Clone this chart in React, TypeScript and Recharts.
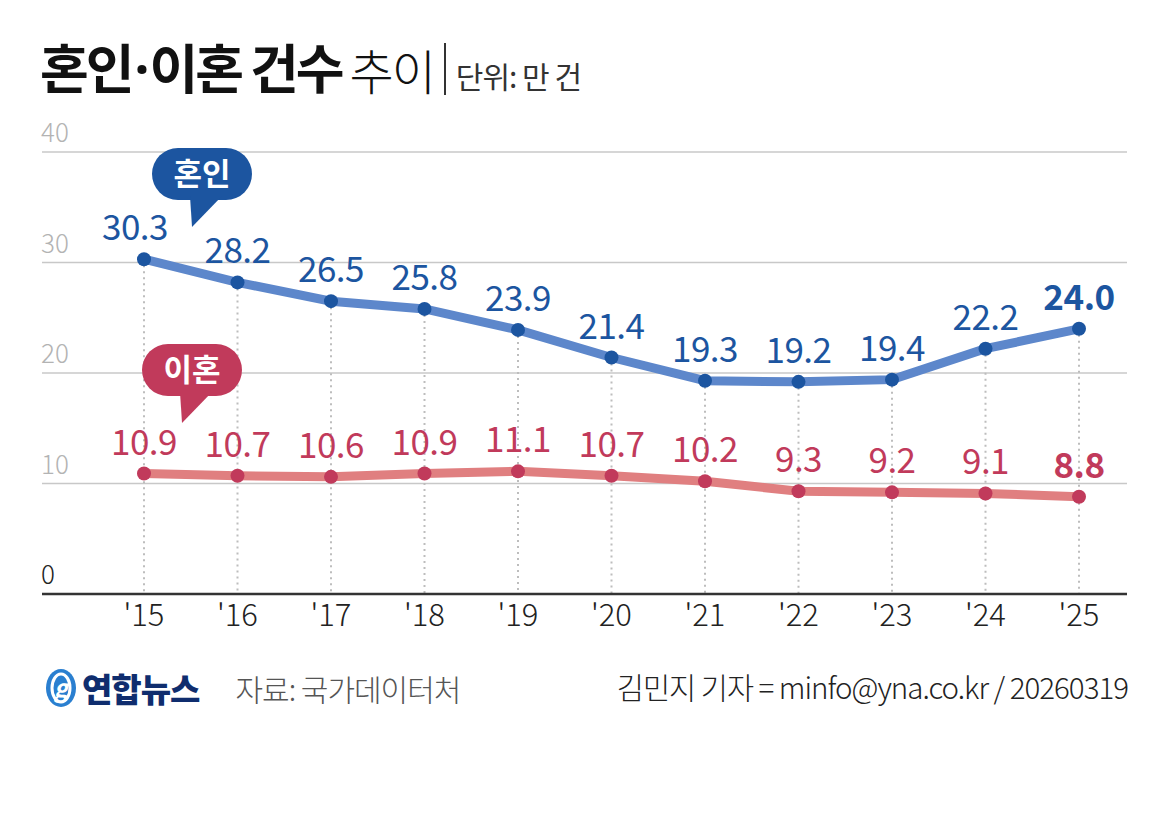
import { LineChart, Line, XAxis, YAxis, CartesianGrid, ReferenceLine } from "recharts";

const years = ["'15", "'16", "'17", "'18", "'19", "'20", "'21", "'22", "'23", "'24", "'25"];
const marriages = [30.3, 28.2, 26.5, 25.8, 23.9, 21.4, 19.3, 19.2, 19.4, 22.2, 24.0];
const divorces = [10.9, 10.7, 10.6, 10.9, 11.1, 10.7, 10.2, 9.3, 9.2, 9.1, 8.8];
const yTicks = [0, 10, 20, 30, 40];

const data = years.map((year, i) => ({ year, marriage: marriages[i], divorce: divorces[i] }));

const FONT = "'Noto Sans CJK KR', 'Noto Sans', sans-serif";
const BLUE_DOT = "#1c55a0";
const BLUE_LINE = "#5d87cb";
const RED_DOT = "#c13a5b";
const RED_LINE = "#e07f80";
const PLOT_LEFT = 42;

function yLabel(value: number) {
  return (props: any) => {
    const { viewBox } = props;
    return (
      <text x={viewBox.x - 1} y={viewBox.y - 10} fontSize={26} fontFamily={FONT} fontWeight={300}
        fill={value === 0 ? "#222" : "#b3b3b3"} textAnchor="start">
        {value}
      </text>
    );
  };
}

function XTick(props: any) {
  const { x, y, payload } = props;
  return (
    <text x={x} y={y + 24} fontSize={31} fontFamily={FONT} fontWeight={300} fill="#222" textAnchor="middle">
      {payload.value}
    </text>
  );
}

function makeLabel(color: string, firstShift: number) {
  return (props: any) => {
    const { x, y, value, index } = props;
    const last = index === years.length - 1;
    return (
      <text x={x + (index === 0 ? firstShift : 0)} y={y - 19} fontSize={35} fontFamily={FONT} fontWeight={last ? 700 : 400}
        fill={color} textAnchor="middle" letterSpacing={-0.5}>
        {value.toFixed(1)}
      </text>
    );
  };
}

function Bubble({ left, top, color, text }: { left: number; top: number; color: string; text: string }) {
  return (
    <svg style={{ position: "absolute", left, top }} width={104} height={82}>
      <rect x={0} y={0} width={100} height={52} rx={26} fill={color} />
      <path d="M38 48 L40 79 L70 48 Z" fill={color} />
      <text x={50} y={37} fontSize={31} fontWeight={700} fontFamily={FONT} fill="#fff" textAnchor="middle">
        {text}
      </text>
    </svg>
  );
}

export default function App() {
  return (
    <div style={{ position: "absolute", left: 0, top: 0, width: 1172, height: 834, background: "#fff", fontFamily: FONT, overflow: "hidden" }}>
      <div style={{ position: "absolute", left: 40, top: 34, display: "flex", alignItems: "flex-end", whiteSpace: "nowrap" }}>
        <span style={{ fontSize: 53, fontWeight: 700, color: "#111", letterSpacing: -3, lineHeight: "64px" }}>
          혼인<span style={{ fontFamily: "'Noto Sans', sans-serif", margin: "0 3px" }}>·</span>이혼 건수
        </span>
        <span style={{ fontSize: 48, fontWeight: 300, color: "#111", marginLeft: 8, letterSpacing: -2, lineHeight: "64px" }}>추이</span>
        <span style={{ display: "inline-block", width: 2, height: 52, background: "#333", marginLeft: 10, marginBottom: 6 }} />
        <span style={{ fontSize: 30, fontWeight: 400, color: "#333", marginLeft: 10, letterSpacing: -1, lineHeight: "52px" }}>단위: 만 건</span>
      </div>

      <div style={{ position: "absolute", left: 0, top: 0 }}>
        <LineChart width={1172} height={834} data={data} margin={{ top: 152, right: 45, bottom: 210, left: PLOT_LEFT }}>
          <CartesianGrid vertical={false} stroke="#c8c8c8" strokeWidth={1.5} />
          <XAxis dataKey="year" axisLine={false} tickLine={false} padding={{ left: 102, right: 48 }} tick={<XTick />} interval={0} />
          <YAxis hide domain={[0, 40]} ticks={yTicks} />
          {yTicks.map((t) => (
            <ReferenceLine key={"y" + t} y={t} stroke="none" label={yLabel(t)} />
          ))}
          {data.map((d) => (
            <ReferenceLine key={d.year} segment={[{ x: d.year, y: d.marriage }, { x: d.year, y: 0 }]}
              stroke="#bdbdbd" strokeWidth={2} strokeDasharray="2 4" />
          ))}
          <ReferenceLine y={0} stroke="#333" strokeWidth={2.5} />
          <Line dataKey="marriage" stroke={BLUE_LINE} strokeWidth={9} isAnimationActive={false}
            dot={{ r: 7, fill: BLUE_DOT, stroke: "none" }} label={makeLabel(BLUE_DOT, -9)} />
          <Line dataKey="divorce" stroke={RED_LINE} strokeWidth={9} isAnimationActive={false}
            dot={{ r: 7, fill: RED_DOT, stroke: "none" }} label={makeLabel(RED_DOT, 0)} />
        </LineChart>
      </div>

      <Bubble left={152} top={148} color={BLUE_DOT} text="혼인" />
      <Bubble left={142} top={344} color={RED_DOT} text="이혼" />

      <div style={{ position: "absolute", left: 44, top: 664, display: "flex", alignItems: "center", whiteSpace: "nowrap" }}>
        <svg width={34} height={42}>
          <ellipse cx={17} cy={21} rx={15} ry={19} fill="#2a7fd0" />
          <ellipse cx={17} cy={21} rx={9} ry={14} fill="none" stroke="#fff" strokeWidth={3} />
          <text x={17} y={30} fontSize={24} fontStyle="italic" fontWeight={700} fill="#fff" textAnchor="middle" fontFamily={FONT}>g</text>
        </svg>
        <span style={{ fontSize: 33, fontWeight: 900, color: "#0f2d6e", marginLeft: 4, letterSpacing: -1 }}>연합뉴스</span>
        <span style={{ fontSize: 30, fontWeight: 300, color: "#555", marginLeft: 36, letterSpacing: -1 }}>자료: 국가데이터처</span>
      </div>
      <div style={{ position: "absolute", right: 44, top: 664, fontSize: 29.5, fontWeight: 300, color: "#222", whiteSpace: "nowrap", letterSpacing: -1, lineHeight: "44px" }}>
        김민지 기자 = minfo@yna.co.kr / 20260319
      </div>
    </div>
  );
}
